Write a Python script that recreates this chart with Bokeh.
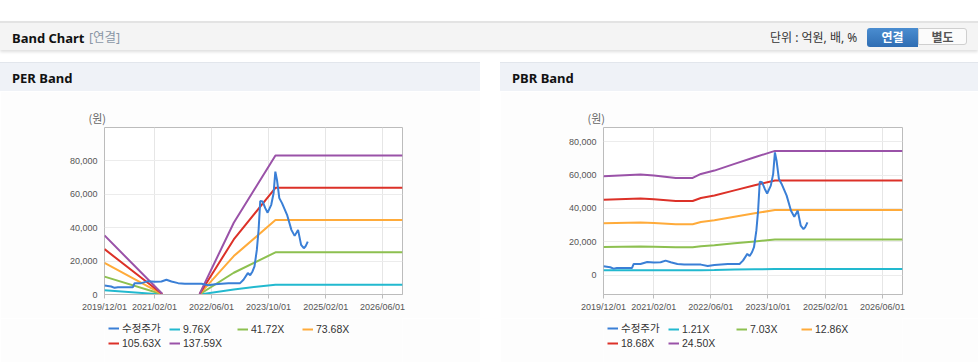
from datetime import datetime
from bokeh.plotting import figure
from bokeh.models import (ColumnDataSource, Range1d, FixedTicker, NumeralTickFormatter,
                          DatetimeTickFormatter, Legend, LegendItem, Div)
from bokeh.layouts import column, row
from bokeh.embed import file_html
from bokeh.resources import INLINE

NaN = float("nan")

# ---------------- data ----------------
x_tick_labels = ["2019/12/01", "2021/02/01", "2022/06/01", "2023/10/01", "2025/02/01", "2026/06/01"]
x_start = "2019-12-01"
x_end = "2026-11-19"
y_ticks = [0, 20000, 40000, 60000, 80000]

price_dates = ["2019-12-01", "2020-01-27", "2020-02-25", "2020-03-24", "2020-07-31", "2020-08-14",
               "2020-10-11", "2020-12-07", "2021-02-02", "2021-03-31", "2021-05-13", "2021-06-25",
               "2021-08-21", "2021-10-17", "2022-03-09", "2022-05-06", "2022-07-02", "2022-10-24",
               "2023-02-01", "2023-03-02", "2023-04-08", "2023-04-28", "2023-05-18", "2023-06-04",
               "2023-06-24", "2023-07-09", "2023-07-23", "2023-08-12", "2023-09-04", "2023-09-24",
               "2023-10-25", "2023-11-14", "2023-11-29", "2023-12-13", "2024-01-02", "2024-01-25",
               "2024-03-08", "2024-04-14", "2024-05-12", "2024-06-10", "2024-07-06", "2024-07-29",
               "2024-08-12", "2024-09-01"]
price_values = [5400, 4800, 4000, 4400, 4400, 6800,
                6800, 8000, 7600, 7800, 8800, 7800,
                6800, 6400, 6400, 5600, 6200, 6800,
                6800, 8800, 12800, 11600, 13800, 16800,
                26700, 38700, 56000, 55700, 51700, 49000,
                53700, 60600, 73600, 68600, 57700, 54700,
                47700, 38700, 35100, 38700, 29700, 27700,
                28700, 31700]

per_dates = ["2019-12-01", "2021-04-07", "2021-09-01", "2022-02-20", "2022-12-09", "2023-11-30", "2026-11-19"]
per_labels = ["9.76X", "41.72X", "73.68X", "105.63X", "137.59X"]
per_976 = [2600, 30, NaN, 30, 3050, 5900, 5900]
per_4172 = [10720, 125, NaN, 125, 13020, 25240, 25240]
per_7368 = [18940, 220, NaN, 220, 22990, 44580, 44580]
per_10563 = [27150, 320, NaN, 320, 32960, 63910, 63910]
per_13759 = [35360, 410, NaN, 410, 42930, 83240, 83240]

pbr_dates = ["2019-12-01", "2020-10-11", "2021-02-02", "2021-08-07", "2021-12-29", "2022-03-09",
             "2022-07-02", "2022-12-20", "2023-06-10", "2023-11-29", "2026-11-19"]
pbr_labels = ["1.21X", "7.03X", "12.86X", "18.68X", "24.50X"]
pbr_121 = [3000, 3000, 3000, 2950, 2950, 3000, 3100, 3500, 3600, 3700, 3700]
pbr_703 = [17010, 17300, 17130, 16730, 16730, 17420, 17990, 19140, 20290, 21380, 21380]
pbr_1286 = [31120, 31650, 31340, 30610, 30610, 31870, 32910, 35000, 37110, 39110, 39110]
pbr_1868 = [45210, 45970, 45520, 44460, 44460, 46290, 47800, 50850, 53910, 56810, 56810]
pbr_2450 = [59290, 60300, 59710, 58310, 58310, 60710, 62700, 66690, 70710, 74500, 74500]

price_label = "수정주가"

# ---------------- style ----------------
C_PRICE = "#3a7fd6"
BAND_COLORS = ["#22b9cf", "#8dc050", "#ffab3a", "#dc3128", "#9a52a8"]
TICK_FONT = "Liberation Sans, Noto Sans CJK KR"
KR_FONT = "Noto Sans CJK KR"
BORDER_BG = "#fdfdfd"


def dts(lst):
    return [datetime.strptime(s, "%Y-%m-%d") for s in lst]


def tick_ms(lbl):
    d = datetime.strptime(lbl, "%Y/%m/%d")
    return (d - datetime(1970, 1, 1)).total_seconds() * 1000.0


def make_panel(width, left, right, band_dates, bands, labels, y0, y1, leg_x0):
    p = figure(width=width, height=227, x_axis_type="datetime",
               x_range=Range1d(datetime.strptime(x_start, "%Y-%m-%d"), datetime.strptime(x_end, "%Y-%m-%d")),
               y_range=Range1d(y0, y1),
               min_border_left=left, min_border_right=right, min_border_top=36, min_border_bottom=24,
               toolbar_location=None, output_backend="svg", title="(원)")
    p.background_fill_color = "#ffffff"
    p.border_fill_color = BORDER_BG
    p.outline_line_color = "#bcbcbc"
    p.title.align = "left"
    p.title.offset = -16
    p.title.standoff = 4
    p.title.text_font = KR_FONT
    p.title.text_font_size = "11px"
    p.title.text_font_style = "normal"
    p.title.text_color = "#666666"

    ticks = [tick_ms(t) for t in x_tick_labels]
    xa = p.xaxis[0]
    xa.ticker = FixedTicker(ticks=ticks)
    fmt = "%Y/%m/%d"
    xa.formatter = DatetimeTickFormatter(microseconds=fmt, milliseconds=fmt, seconds=fmt, minsec=fmt,
                                         minutes=fmt, hourmin=fmt, hours=fmt, days=fmt, months=fmt, years=fmt)
    xa.major_label_overrides = {t: l for t, l in zip(ticks, x_tick_labels)}
    xa.axis_line_color = "#bcbcbc"
    xa.major_tick_line_color = "#bcbcbc"
    xa.major_tick_in = 0
    xa.major_tick_out = 4
    xa.minor_tick_line_color = None
    xa.major_label_standoff = 3
    xa.major_label_text_font = TICK_FONT
    xa.major_label_text_font_size = "9px"
    xa.major_label_text_color = "#555555"

    ya = p.yaxis[0]
    ya.ticker = FixedTicker(ticks=y_ticks)
    ya.formatter = NumeralTickFormatter(format="0,0")
    ya.axis_line_color = None
    ya.major_tick_line_color = None
    ya.minor_tick_line_color = None
    ya.major_tick_out = 0
    ya.major_tick_in = 0
    ya.major_label_standoff = 7
    ya.major_label_text_font = TICK_FONT
    ya.major_label_text_font_size = "9px"
    ya.major_label_text_color = "#555555"

    p.xgrid.grid_line_color = "#e6e6e6"
    p.ygrid.grid_line_color = "#ececec"

    bdates = dts(band_dates)
    for vals, col in zip(bands, BAND_COLORS):
        src = ColumnDataSource(dict(x=bdates, y=vals))
        p.line("x", "y", source=src, line_color=col, line_width=2)
    psrc = ColumnDataSource(dict(x=dts(price_dates), y=price_values))
    p.line("x", "y", source=psrc, line_color=C_PRICE, line_width=2)

    # legend strip (separate figure so the legend is not clipped by the plot frame);
    # its frame is aligned with the chart frame above by the column layout.
    lf = figure(width=width, height=44, x_range=Range1d(0, 1), y_range=Range1d(0, 1),
                min_border=0, min_border_left=0, min_border_right=0, min_border_top=0, min_border_bottom=0,
                toolbar_location=None, output_backend="svg", x_axis_location=None, y_axis_location=None)
    lf.grid.visible = False
    lf.outline_line_color = None
    lf.background_fill_color = BORDER_BG
    lf.border_fill_color = BORDER_BG
    swatches = []
    for col in [C_PRICE] + BAND_COLORS:
        # legend-only renderers: a single NaN point, nothing is drawn in the strip
        swatches.append(lf.line(x=[NaN], y=[NaN], line_color=col, line_width=2))
    names = [price_label] + labels
    xs = [0, 61, 129, 194, 0, 61]
    ys = [27, 27, 27, 27, 13, 13]
    for lab, r, lx, ly in zip(names, swatches, xs, ys):
        lg = Legend(items=[LegendItem(label=lab, renderers=[r])], location=(leg_x0 + lx, ly),
                    padding=0, margin=0, spacing=0, glyph_width=11, glyph_height=12,
                    label_height=12, label_standoff=3, label_text_font=TICK_FONT,
                    label_text_font_size="10.5px", label_text_color="#333333",
                    background_fill_alpha=0, border_line_color=None)
        lf.add_layout(lg)
    return column(p, lf, spacing=0, margin=0)


per_block = make_panel(480, 104, 78, per_dates, [per_976, per_4172, per_7368, per_10563, per_13759],
                       per_labels, 0, 100000, 4)
pbr_block = make_panel(478, 103, 76, pbr_dates, [pbr_121, pbr_703, pbr_1286, pbr_1868, pbr_2450],
                       pbr_labels, -11500, 88500, 4)

FONT_CSS = "'Noto Sans','Noto Sans CJK KR',sans-serif"

header_html = f"""
<div style="position:relative;width:978px;height:62px;background:#ffffff;font-family:{FONT_CSS};">
 <div style="position:absolute;left:0;top:21px;width:978px;height:29px;background:#f4f4f4;border-top:2px solid #e3e3e3;box-shadow:0 2px 3px rgba(0,0,0,0.13);"></div>
 <div style="position:absolute;left:12px;top:29px;line-height:18px;font-size:13px;font-weight:bold;color:#111;">Band Chart</div>
 <div style="position:absolute;left:89px;top:29px;line-height:18px;font-size:12.5px;color:#8a97a6;">[연결]</div>
 <div style="position:absolute;left:770px;top:29px;line-height:18px;font-size:12px;color:#333;">단위 : 억원, 배, %</div>
 <div style="position:absolute;left:867px;top:28px;width:51px;height:19px;line-height:19px;text-align:center;font-size:12px;font-weight:bold;color:#fff;background:linear-gradient(#4a8dd0,#2f6db3);border-radius:3px 0 0 3px;">연결</div>
 <div style="position:absolute;left:918px;top:28px;width:49px;height:17px;line-height:17px;text-align:center;font-size:12px;font-weight:bold;color:#555;background:#fbfbfb;border:1px solid #cfcfcf;border-radius:0 3px 3px 0;">별도</div>
</div>
"""
header = Div(text=header_html, width=978, height=62, margin=0)


def panel_header(txt, w):
    html = f"""<div style="position:relative;width:{w}px;height:29px;background:#eff2f7;border-top:1px solid #e2e6ec;box-sizing:border-box;font-family:{FONT_CSS};">
<div style="position:absolute;left:12px;top:6px;line-height:18px;font-size:13px;font-weight:bold;color:#111;">{txt}</div></div>"""
    return Div(text=html, width=w, height=29, margin=0)


left_col = column(panel_header("PER Band", 480), per_block, spacing=0, margin=0)
gap = Div(text="", width=20, height=300, margin=0)
right_col = column(panel_header("PBR Band", 478), pbr_block, spacing=0, margin=0)
root = column(header, row(left_col, gap, right_col, spacing=0, margin=0), spacing=0, margin=0)

open("out.html", "w").write(file_html(root, INLINE))
